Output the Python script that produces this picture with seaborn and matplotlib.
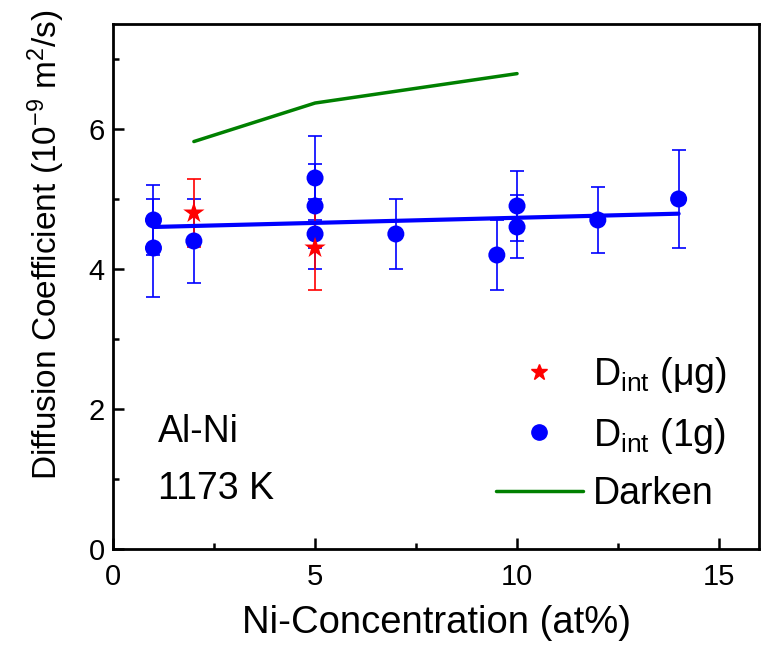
import matplotlib
matplotlib.use("Agg")
import matplotlib.pyplot as plt
import seaborn as sns
import pandas as pd
from matplotlib.lines import Line2D
from matplotlib.ticker import MultipleLocator

sns.set_theme(style="ticks")
plt.rcParams['font.family'] = ['Liberation Sans', 'DejaVu Sans']
plt.rcParams['mathtext.fontset'] = 'custom'
plt.rcParams['mathtext.rm'] = 'Liberation Sans'
plt.rcParams['mathtext.it'] = 'Liberation Sans'
for k in ['text.color', 'axes.labelcolor', 'xtick.color', 'ytick.color', 'axes.edgecolor']:
    plt.rcParams[k] = 'black'

# Data
x_1g = [1, 1, 2, 5, 5, 5, 7, 9.5, 10, 10, 12, 14]
d_1g = [4.7, 4.3, 4.4, 5.3, 4.9, 4.5, 4.5, 4.2, 4.9, 4.6, 4.7, 5.0]
e_1g = [0.5, 0.7, 0.6, 0.6, 0.6, 0.5, 0.5, 0.5, 0.5, 0.45, 0.47, 0.7]

x_ug = [2, 5]
d_ug = [4.8, 4.3]
e_ug = [0.48, 0.6]

x_fit = [1, 14]
d_fit = [4.6, 4.79]

x_darken = [2, 5, 10]
d_darken = [5.82, 6.37, 6.79]

BLUE = '#0000FF'
RED = '#FF0000'
GREEN = '#008000'

fig, ax = plt.subplots(figsize=(7.64, 6.46), dpi=100)
fig.subplots_adjust(left=0.148, right=0.994, top=0.963, bottom=0.150)

df1 = pd.DataFrame({'x': x_1g, 'y': d_1g})
dfu = pd.DataFrame({'x': x_ug, 'y': d_ug})
dff = pd.DataFrame({'x': x_fit, 'y': d_fit})
dfd = pd.DataFrame({'x': x_darken, 'y': d_darken})

ax.errorbar(x_1g, d_1g, yerr=e_1g, fmt='none', ecolor=BLUE, elinewidth=1.2,
            capsize=5, capthick=1.2, zorder=2)
ax.errorbar(x_ug, d_ug, yerr=e_ug, fmt='none', ecolor=RED, elinewidth=1.2,
            capsize=5, capthick=1.2, zorder=2)
sns.lineplot(data=dff, x='x', y='y', color=BLUE, linewidth=3, ax=ax, zorder=3)
sns.lineplot(data=dfd, x='x', y='y', color=GREEN, linewidth=2.5, ax=ax, zorder=3)
sns.scatterplot(data=df1, x='x', y='y', color=BLUE, marker='o', s=150,
                edgecolor='none', ax=ax, zorder=4)
sns.scatterplot(data=dfu, x='x', y='y', color=RED, marker='*', s=260,
                edgecolor='none', ax=ax, zorder=5)

ax.set_xlim(0, 16)
ax.set_ylim(0, 7.5)
ax.xaxis.set_major_locator(MultipleLocator(5))
ax.xaxis.set_minor_locator(MultipleLocator(2.5))
ax.yaxis.set_major_locator(MultipleLocator(2))
ax.yaxis.set_minor_locator(MultipleLocator(1))
ax.tick_params(which='both', direction='in', width=1.8, labelsize=21, color='black',
               labelcolor='black')
ax.tick_params(which='major', length=8, pad=6)
ax.tick_params(axis='x', which='major', pad=10)
ax.tick_params(which='minor', length=4)
ax.tick_params(top=False, right=False, which='both')
for s in ax.spines.values():
    s.set_linewidth(2)
    s.set_color('black')

ax.set_xlabel('Ni-Concentration (at%)', fontsize=27.5, labelpad=10)
ax.set_ylabel(r'Diffusion Coefficient (10$^{-9}$ m$^{2}$/s)', fontsize=24)
ax.yaxis.set_label_coords(-0.071, 0.579)

ax.text(1.1, 1.67, 'Al-Ni', fontsize=27, ha='left', va='center')
ax.text(1.1, 0.86, '1173 K', fontsize=27, ha='left', va='center')

handles = [
    Line2D([], [], color=RED, marker='*', linestyle='none', markersize=12),
    Line2D([], [], color=BLUE, marker='o', linestyle='none', markersize=11),
    Line2D([], [], color=GREEN, linewidth=2.5),
]
labels = [r'D$_{\mathrm{int}}$ (μg)', r'D$_{\mathrm{int}}$ (1g)', 'Darken']
ax.legend(handles, labels, loc='upper left', bbox_to_anchor=(0.593, 0.369),
          frameon=False, fontsize=27, handlelength=2.3, handletextpad=0.27,
          labelspacing=0.54, borderpad=0, borderaxespad=0)

fig.savefig('out.png', dpi=100)
